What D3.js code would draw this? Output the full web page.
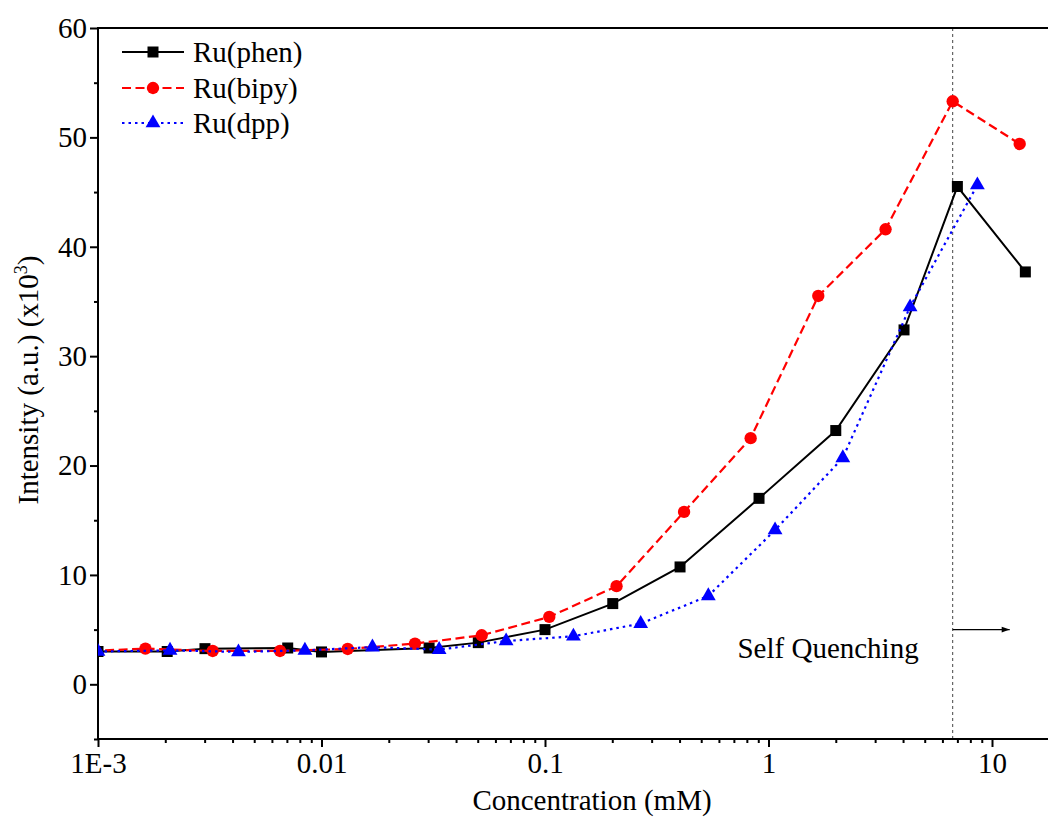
<!DOCTYPE html>
<html>
<head>
<meta charset="utf-8">
<script src="https://cdn.jsdelivr.net/npm/d3@7"></script>
<style>
  body { margin: 0; background: #fff; }
  svg { display: block; font-family: "Liberation Serif", "DejaVu Serif", serif; }
</style>
</head>
<body>
<div class="chart"></div>
<script>
// data (concentration in mM, intensity in x10^3 a.u.)
var phenConc = [0.001, 0.00204, 0.00301, 0.00706, 0.01, 0.0303, 0.0503, 0.1, 0.201, 0.402, 0.907, 2.0, 4.04, 7.0, 14.1];
var phenInt  = [3.0, 3.0, 3.26, 3.32, 2.96, 3.32, 3.81, 5.0, 7.38, 10.73, 17.0, 23.2, 32.4, 45.5, 37.7];

var bipyConc = [0.000815, 0.00163, 0.00326, 0.00652, 0.0131, 0.0262, 0.0521, 0.1045, 0.209, 0.419, 0.832, 1.67, 3.34, 6.67, 13.3];
var bipyInt  = [3.0, 3.26, 3.05, 3.05, 3.23, 3.72, 4.48, 6.16, 8.97, 15.76, 22.5, 35.5, 41.6, 53.3, 49.4];

var dppConc = [0.001, 0.0021, 0.00425, 0.00843, 0.0169, 0.0336, 0.067, 0.134, 0.268, 0.538, 1.07, 2.15, 4.3, 8.6];
var dppInt  = [3.0, 3.1, 2.96, 3.1, 3.4, 3.17, 3.96, 4.39, 5.55, 8.08, 14.1, 20.7, 34.5, 45.65];

var seriesNames = ["Ru(phen)", "Ru(bipy)", "Ru(dpp)"];

var xTicks = [0.001, 0.01, 0.1, 1, 10];
var xTickLabels = ["1E-3", "0.01", "0.1", "1", "10"];
var yTicks = [0, 10, 20, 30, 40, 50, 60];
var yMinorTicks = [-5, 5, 15, 25, 35, 45, 55];

var quenchConc = 6.67;   // dotted marker line
var arrowEnd = 12;
var arrowLevel = 5;

// layout
var width = 1048, height = 817;
var plotLeft = 98, plotTop = 28, plotBottom = 739;
var fontSize = "29px";

var x = d3.scaleLog().domain([0.001, 20]).range([plotLeft, plotLeft + 223.5 * Math.log10(20000)]);
var y = d3.scaleLinear().domain([-5, 60]).range([plotBottom, plotTop]);
var plotRight = x.range()[1];

var svg = d3.select(".chart").append("svg")
    .attr("width", width)
    .attr("height", height);

svg.append("rect").attr("width", width).attr("height", height).attr("fill", "#fff");

var defs = svg.append("defs");
defs.append("clipPath").attr("id", "plotclip")
  .append("rect")
    .attr("x", plotLeft).attr("y", plotTop)
    .attr("width", plotRight - plotLeft).attr("height", plotBottom - plotTop);

defs.append("marker")
    .attr("id", "arrowhead")
    .attr("viewBox", "0 0 10 10")
    .attr("refX", 10).attr("refY", 5)
    .attr("markerWidth", 11).attr("markerHeight", 8)
    .attr("markerUnits", "userSpaceOnUse")
    .attr("orient", "auto")
  .append("path")
    .attr("d", "M0,1.5 L10,5 L0,8.5 Z")
    .attr("fill", "#000");

// self quenching annotation
svg.append("line")
    .attr("x1", x(quenchConc)).attr("x2", x(quenchConc))
    .attr("y1", plotTop).attr("y2", plotBottom)
    .attr("stroke", "#444")
    .attr("stroke-width", 1)
    .attr("stroke-dasharray", "3,3");

svg.append("line")
    .attr("x1", x(quenchConc)).attr("x2", x(arrowEnd))
    .attr("y1", y(arrowLevel)).attr("y2", y(arrowLevel))
    .attr("stroke", "#000")
    .attr("stroke-width", 1.2)
    .attr("marker-end", "url(#arrowhead)");

svg.append("text")
    .attr("x", x(quenchConc) - 34)
    .attr("y", 658)
    .attr("text-anchor", "end")
    .style("font-size", fontSize)
    .text("Self Quenching");

// axes
var xAxis = d3.axisBottom(x)
    .tickValues(xTicks)
    .tickSize(8)
    .tickPadding(5)
    .tickFormat(function(d, i) { return xTickLabels[i]; });

var xMinor = [];
xTicks.forEach(function(dec) {
  for (var k = 2; k <= 9; k++) xMinor.push(dec * k);
});

var gx = svg.append("g").attr("transform", "translate(0," + plotBottom + ")");
gx.call(xAxis);
gx.append("g").call(d3.axisBottom(x).tickValues(xMinor).tickSize(4).tickFormat(""));

var gy = svg.append("g").attr("transform", "translate(" + plotLeft + ",0)");
gy.call(d3.axisLeft(y).tickValues(yTicks).tickSize(8).tickPadding(3).tickFormat(d3.format("d")));
gy.append("g").call(d3.axisLeft(y).tickValues(yMinorTicks).tickSize(4).tickFormat(""));

svg.selectAll(".domain").remove();
svg.selectAll(".tick line").attr("stroke", "#000").attr("stroke-width", 2);
svg.selectAll(".tick text")
    .style("font-size", fontSize)
    .style("font-family", "'Liberation Serif', serif")
    .attr("fill", "#000");

// frame (left, bottom, top)
svg.append("path")
    .attr("d", "M" + plotRight + "," + plotTop + " H" + plotLeft + " V" + plotBottom + " H" + plotRight)
    .attr("fill", "none")
    .attr("stroke", "#000")
    .attr("stroke-width", 2);

// axis titles
svg.append("text")
    .attr("x", 592).attr("y", 810)
    .attr("text-anchor", "middle")
    .style("font-size", fontSize)
    .text("Concentration (mM)");

var yTitle = svg.append("text")
    .attr("transform", "translate(38,380) rotate(-90)")
    .attr("text-anchor", "middle")
    .style("font-size", fontSize);
yTitle.append("tspan").text("Intensity (a.u.) (x10");
yTitle.append("tspan").attr("dy", -11).style("font-size", "18px").text("3");
yTitle.append("tspan").attr("dy", 11).text(")");

// series
var series = [
  { name: seriesNames[0], xs: phenConc, ys: phenInt, color: "#000", dash: null, width: 2, shape: d3.symbolSquare, size: 121 },
  { name: seriesNames[1], xs: bipyConc, ys: bipyInt, color: "#ff0000", dash: "9,4.5", width: 2.2, shape: d3.symbolCircle, size: 120 },
  { name: seriesNames[2], xs: dppConc, ys: dppInt, color: "#0000ff", dash: "2.5,4", width: 2.2, shape: d3.symbolTriangle, size: 95 }
];

var plot = svg.append("g").attr("clip-path", "url(#plotclip)");

var line = d3.line()
    .x(function(d) { return x(d[0]); })
    .y(function(d) { return y(d[1]); });

series.forEach(function(s) {
  var pts = s.xs.map(function(c, i) { return [c, s.ys[i]]; });
  var g = plot.append("g");
  g.append("path")
      .datum(pts)
      .attr("d", line)
      .attr("fill", "none")
      .attr("stroke", s.color)
      .attr("stroke-width", s.width)
      .attr("stroke-dasharray", s.dash);
  g.selectAll("path.mark")
      .data(pts)
      .enter().append("path")
      .attr("class", "mark")
      .attr("d", d3.symbol().type(s.shape).size(s.size))
      .attr("transform", function(d) { return "translate(" + x(d[0]) + "," + y(d[1]) + ")"; })
      .attr("fill", s.color);
});

// legend
var legend = svg.append("g");
var legendY = [52, 88, 123];
series.forEach(function(s, i) {
  legend.append("line")
      .attr("x1", 122).attr("x2", 184)
      .attr("y1", legendY[i]).attr("y2", legendY[i])
      .attr("stroke", s.color)
      .attr("stroke-width", s.width)
      .attr("stroke-dasharray", s.dash);
  legend.append("path")
      .attr("d", d3.symbol().type(s.shape).size(s.size))
      .attr("transform", "translate(153," + legendY[i] + ")")
      .attr("fill", s.color);
  legend.append("text")
      .attr("x", 193).attr("y", legendY[i] + 10)
      .style("font-size", fontSize)
      .text(s.name);
});
</script>
</body>
</html>
